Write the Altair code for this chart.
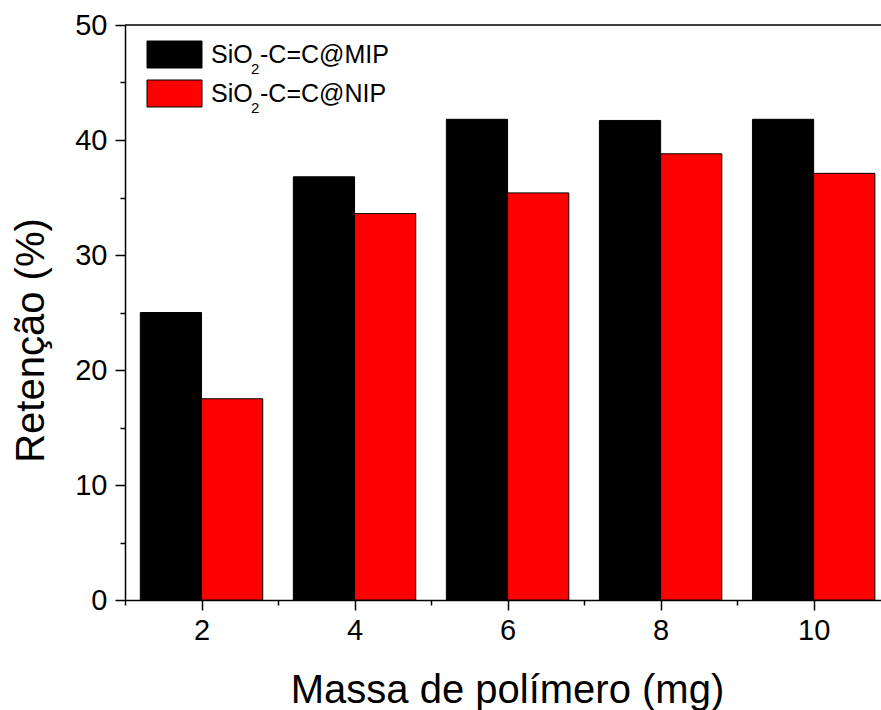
import altair as alt
import pandas as pd

# ---- data ----
masses = [2, 4, 6, 8, 10]
mip_values = [25.0, 36.8, 41.8, 41.7, 41.8]
nip_values = [17.5, 33.6, 35.4, 38.8, 37.1]
series_keys = ["MIP", "NIP"]
series_colors = ["#000000", "#ff0000"]
legend_prefix = ["SiO", "SiO"]
legend_sub = ["2", "2"]
legend_suffix = ["-C=C@MIP", "-C=C@NIP"]
x_tick_values = [1, 2, 3, 4, 5, 6, 7, 8, 9, 10]
y_tick_values = [0, 5, 10, 15, 20, 25, 30, 35, 40, 45, 50]

BAR_W = 0.8
FONT = "Liberation Sans"
W, H = 756, 575

rows = []
for m, a, b in zip(masses, mip_values, nip_values):
    rows.append({"mass": m, "series": "MIP", "value": a, "start": m - BAR_W, "end": m})
    rows.append({"mass": m, "series": "NIP", "value": b, "start": m, "end": m + BAR_W})
df = pd.DataFrame(rows)

xscale = alt.Scale(domain=[1, 10.88], nice=False, zero=False)
yscale = alt.Scale(domain=[0, 50], nice=False)

x_axis = alt.Axis(
    values=x_tick_values,
    labelExpr="datum.value % 2 === 0 ? datum.label : ''",
    tickSize={"condition": {"test": "datum.value % 2 === 0", "value": 10}, "value": 5},
    tickWidth=1.5, tickColor="black",
    domainColor="black", domainWidth=1.5,
    labelFont=FONT, labelFontSize=29, labelColor="black", labelPadding=6,
    labelOverlap=False, labelFlush=False,
    grid=False,
    title="Massa de polímero (mg)",
    titleFont=FONT, titleFontSize=40, titleFontWeight="normal", titleColor="black",
    titleBaseline="alphabetic", titleAlign="center", titleX=382, titleY=102,
)
y_axis = alt.Axis(
    values=y_tick_values,
    labelExpr="datum.value % 10 === 0 ? datum.label : ''",
    tickSize={"condition": {"test": "datum.value % 10 === 0", "value": 10}, "value": 5},
    tickWidth=1.5, tickColor="black",
    domainColor="black", domainWidth=1.5,
    labelFont=FONT, labelFontSize=29, labelColor="black", labelPadding=8,
    labelOverlap=False, labelFlush=False,
    grid=False,
    title="Retenção (%)",
    titleFont=FONT, titleFontSize=40, titleFontWeight="normal", titleColor="black",
    titleAngle=270, titleBaseline="alphabetic", titleAlign="center", titleX=-82, titleY=315,
)

bars = alt.Chart(df).mark_bar(stroke="black", strokeWidth=1).encode(
    x=alt.X("start:Q", scale=xscale, axis=x_axis),
    x2="end:Q",
    y=alt.Y("value:Q", scale=yscale, axis=y_axis),
    y2=alt.datum(0),
    color=alt.Color("series:N", scale=alt.Scale(domain=series_keys, range=series_colors), legend=None),
)

top_line = alt.Chart(pd.DataFrame({"top": [50]})).mark_rule(color="black", strokeWidth=1.5).encode(
    y=alt.Y("top:Q", scale=yscale)
)

layers = [bars, top_line]
for i in range(len(series_keys)):
    off = 39 * i
    one = pd.DataFrame({"p": [legend_prefix[i]], "s": [legend_sub[i]], "q": [legend_suffix[i]]})
    layers.append(
        alt.Chart(one).mark_rect(fill=series_colors[i], stroke="black", strokeWidth=1).encode(
            x=alt.value(22), x2=alt.value(77), y=alt.value(16 + off), y2=alt.value(43 + off)
        )
    )
    layers.append(
        alt.Chart(one).mark_text(align="left", baseline="alphabetic", font=FONT, fontSize=25, color="black").encode(
            x=alt.value(86), y=alt.value(38 + off), text="p:N"
        )
    )
    layers.append(
        alt.Chart(one).mark_text(align="left", baseline="alphabetic", font=FONT, fontSize=15, color="black").encode(
            x=alt.value(126), y=alt.value(49 + off), text="s:N"
        )
    )
    layers.append(
        alt.Chart(one).mark_text(align="left", baseline="alphabetic", font=FONT, fontSize=25, color="black").encode(
            x=alt.value(135), y=alt.value(38 + off), text="q:N"
        )
    )

chart = alt.layer(*layers).properties(
    width=W, height=H,
    autosize=alt.AutoSizeParams(type="none"),
    padding={"left": 125, "top": 25, "right": 0, "bottom": 110},
    background="white",
).configure_view(stroke=None)

chart.save("out.html", embed_options={"renderer": "svg", "actions": False})
